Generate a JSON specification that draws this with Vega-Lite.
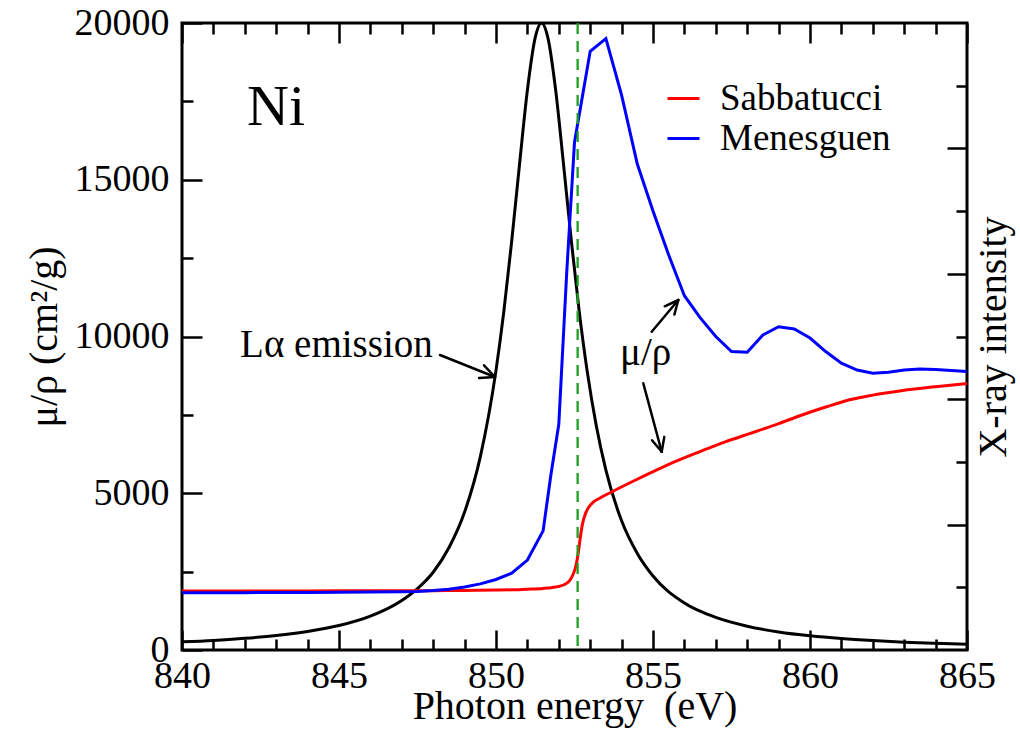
{
  "$schema": "https://vega.github.io/schema/vega-lite/v6.json",
  "width": 785,
  "height": 627,
  "autosize": {"type": "none"},
  "padding": {"left": 182, "top": 23, "right": 53, "bottom": 89},
  "background": "white",
  "config": {
    "view": {"stroke": "black", "strokeWidth": 3},
    "font": "Liberation Serif",
    "axis": {
      "grid": false,
      "domain": false,
      "tickColor": "black",
      "tickWidth": 2.5,
      "labelColor": "black",
      "titleColor": "black",
      "labelFont": "Liberation Serif",
      "titleFont": "Liberation Serif",
      "labelFontSize": 38,
      "titleFontSize": 40,
      "titleFontWeight": "normal"
    }
  },
  "datasets": {
    "sabbatucci": [
      {"series": "Sabbatucci", "energy": 840, "mu": 1880},
      {"series": "Sabbatucci", "energy": 842, "mu": 1882},
      {"series": "Sabbatucci", "energy": 844, "mu": 1885},
      {"series": "Sabbatucci", "energy": 846, "mu": 1888},
      {"series": "Sabbatucci", "energy": 848, "mu": 1893},
      {"series": "Sabbatucci", "energy": 849, "mu": 1900},
      {"series": "Sabbatucci", "energy": 850, "mu": 1910},
      {"series": "Sabbatucci", "energy": 850.5, "mu": 1920},
      {"series": "Sabbatucci", "energy": 851, "mu": 1940},
      {"series": "Sabbatucci", "energy": 851.5, "mu": 1965},
      {"series": "Sabbatucci", "energy": 851.8, "mu": 1995},
      {"series": "Sabbatucci", "energy": 852, "mu": 2030},
      {"series": "Sabbatucci", "energy": 852.2, "mu": 2100},
      {"series": "Sabbatucci", "energy": 852.35, "mu": 2220},
      {"series": "Sabbatucci", "energy": 852.45, "mu": 2400},
      {"series": "Sabbatucci", "energy": 852.55, "mu": 2700},
      {"series": "Sabbatucci", "energy": 852.62, "mu": 3100},
      {"series": "Sabbatucci", "energy": 852.68, "mu": 3550},
      {"series": "Sabbatucci", "energy": 852.75, "mu": 4000},
      {"series": "Sabbatucci", "energy": 852.85, "mu": 4350},
      {"series": "Sabbatucci", "energy": 852.95, "mu": 4550},
      {"series": "Sabbatucci", "energy": 853.1, "mu": 4720},
      {"series": "Sabbatucci", "energy": 853.3, "mu": 4840},
      {"series": "Sabbatucci", "energy": 853.7, "mu": 5050},
      {"series": "Sabbatucci", "energy": 854.3, "mu": 5350},
      {"series": "Sabbatucci", "energy": 854.9, "mu": 5640},
      {"series": "Sabbatucci", "energy": 855.5, "mu": 5920},
      {"series": "Sabbatucci", "energy": 856.5, "mu": 6330},
      {"series": "Sabbatucci", "energy": 857.3, "mu": 6640},
      {"series": "Sabbatucci", "energy": 858.1, "mu": 6910},
      {"series": "Sabbatucci", "energy": 859, "mu": 7220},
      {"series": "Sabbatucci", "energy": 859.7, "mu": 7480},
      {"series": "Sabbatucci", "energy": 860.5, "mu": 7750},
      {"series": "Sabbatucci", "energy": 861.3, "mu": 7990},
      {"series": "Sabbatucci", "energy": 862, "mu": 8130},
      {"series": "Sabbatucci", "energy": 862.9, "mu": 8270},
      {"series": "Sabbatucci", "energy": 864, "mu": 8400},
      {"series": "Sabbatucci", "energy": 865, "mu": 8500}
    ],
    "menesguen": [
      {"series": "Menesguen", "energy": 840, "mu": 1830},
      {"series": "Menesguen", "energy": 841, "mu": 1830},
      {"series": "Menesguen", "energy": 842, "mu": 1830},
      {"series": "Menesguen", "energy": 843, "mu": 1832},
      {"series": "Menesguen", "energy": 844, "mu": 1835},
      {"series": "Menesguen", "energy": 845, "mu": 1840},
      {"series": "Menesguen", "energy": 846, "mu": 1848},
      {"series": "Menesguen", "energy": 847, "mu": 1858},
      {"series": "Menesguen", "energy": 847.5, "mu": 1870},
      {"series": "Menesguen", "energy": 848, "mu": 1895},
      {"series": "Menesguen", "energy": 848.5, "mu": 1940},
      {"series": "Menesguen", "energy": 849, "mu": 2010},
      {"series": "Menesguen", "energy": 849.5, "mu": 2110},
      {"series": "Menesguen", "energy": 850, "mu": 2250},
      {"series": "Menesguen", "energy": 850.5, "mu": 2450},
      {"series": "Menesguen", "energy": 851, "mu": 2870},
      {"series": "Menesguen", "energy": 851.5, "mu": 3800},
      {"series": "Menesguen", "energy": 851.75, "mu": 5600},
      {"series": "Menesguen", "energy": 852, "mu": 7200},
      {"series": "Menesguen", "energy": 852.25, "mu": 12000},
      {"series": "Menesguen", "energy": 852.5, "mu": 16200},
      {"series": "Menesguen", "energy": 853, "mu": 19100},
      {"series": "Menesguen", "energy": 853.5, "mu": 19500},
      {"series": "Menesguen", "energy": 854, "mu": 17700},
      {"series": "Menesguen", "energy": 854.5, "mu": 15500},
      {"series": "Menesguen", "energy": 855, "mu": 14000},
      {"series": "Menesguen", "energy": 855.5, "mu": 12600},
      {"series": "Menesguen", "energy": 856, "mu": 11300},
      {"series": "Menesguen", "energy": 856.5, "mu": 10600},
      {"series": "Menesguen", "energy": 857, "mu": 10000},
      {"series": "Menesguen", "energy": 857.5, "mu": 9520},
      {"series": "Menesguen", "energy": 858, "mu": 9500},
      {"series": "Menesguen", "energy": 858.5, "mu": 10050},
      {"series": "Menesguen", "energy": 859, "mu": 10310},
      {"series": "Menesguen", "energy": 859.5, "mu": 10240},
      {"series": "Menesguen", "energy": 860, "mu": 9950},
      {"series": "Menesguen", "energy": 860.5, "mu": 9520},
      {"series": "Menesguen", "energy": 861, "mu": 9150},
      {"series": "Menesguen", "energy": 861.5, "mu": 8930},
      {"series": "Menesguen", "energy": 862, "mu": 8830},
      {"series": "Menesguen", "energy": 862.5, "mu": 8860},
      {"series": "Menesguen", "energy": 863, "mu": 8930},
      {"series": "Menesguen", "energy": 863.5, "mu": 8960},
      {"series": "Menesguen", "energy": 864, "mu": 8950},
      {"series": "Menesguen", "energy": 865, "mu": 8880}
    ],
    "emission": [
      {"energy": 840, "intensity": 0.013},
      {"energy": 841, "intensity": 0.0152},
      {"energy": 842, "intensity": 0.0186},
      {"energy": 843, "intensity": 0.0231},
      {"energy": 844, "intensity": 0.0296},
      {"energy": 845, "intensity": 0.039},
      {"energy": 846, "intensity": 0.054},
      {"energy": 847, "intensity": 0.079},
      {"energy": 847.5, "intensity": 0.098},
      {"energy": 848, "intensity": 0.124},
      {"energy": 848.5, "intensity": 0.163},
      {"energy": 849, "intensity": 0.22},
      {"energy": 849.5, "intensity": 0.308},
      {"energy": 850, "intensity": 0.446},
      {"energy": 850.25, "intensity": 0.54},
      {"energy": 850.5, "intensity": 0.652},
      {"energy": 850.75, "intensity": 0.775},
      {"energy": 851, "intensity": 0.893},
      {"energy": 851.25, "intensity": 0.977},
      {"energy": 851.45, "intensity": 1.0},
      {"energy": 851.65, "intensity": 0.977},
      {"energy": 851.9, "intensity": 0.893},
      {"energy": 852.15, "intensity": 0.775},
      {"energy": 852.4, "intensity": 0.652},
      {"energy": 852.65, "intensity": 0.54},
      {"energy": 852.9, "intensity": 0.446},
      {"energy": 853.2, "intensity": 0.356},
      {"energy": 853.5, "intensity": 0.287},
      {"energy": 854, "intensity": 0.206},
      {"energy": 854.5, "intensity": 0.154},
      {"energy": 855, "intensity": 0.118},
      {"energy": 856, "intensity": 0.075},
      {"energy": 857, "intensity": 0.052},
      {"energy": 858, "intensity": 0.038},
      {"energy": 859, "intensity": 0.0288},
      {"energy": 860, "intensity": 0.0226},
      {"energy": 861, "intensity": 0.0182},
      {"energy": 862, "intensity": 0.015},
      {"energy": 863, "intensity": 0.0125},
      {"energy": 864, "intensity": 0.0106},
      {"energy": 865, "intensity": 0.0091}
    ],
    "edge": [{"energy": 852.6}],
    "notes": [
      {"label": "Lα emission", "energy": 841.85, "mu": 9347},
      {"label": "μ/ρ", "energy": 853.95, "mu": 9090}
    ],
    "element": [{"label": "Ni", "energy": 842.07, "mu": 16748}],
    "arrows": [
      {"energy": 848.217, "mu": 9410, "energy2": 849.968, "mu2": 8708},
      {"energy": 849.618, "mu": 9082, "energy2": 849.968, "mu2": 8708},
      {"energy": 849.459, "mu": 8680, "energy2": 849.968, "mu2": 8708},
      {"energy": 854.959, "mu": 10153, "energy2": 855.806, "mu2": 11164},
      {"energy": 855.373, "mu": 10963, "energy2": 855.806, "mu2": 11164},
      {"energy": 855.682, "mu": 10702, "energy2": 855.806, "mu2": 11164},
      {"energy": 854.691, "mu": 8507, "energy2": 855.277, "mu2": 6325},
      {"energy": 855.36, "mu": 6798, "energy2": 855.277, "mu2": 6325},
      {"energy": 854.968, "mu": 6692, "energy2": 855.277, "mu2": 6325}
    ]
  },
  "layer": [
    {
      "data": {"name": "emission"},
      "mark": {"type": "line", "color": "black", "strokeWidth": 3, "interpolate": "monotone", "clip": true},
      "encoding": {
        "x": {
          "field": "energy", "type": "quantitative",
          "scale": {"domain": [840, 865], "nice": false, "zero": false},
          "axis": {
            "orient": "top",
            "values": [840,841,842,843,844,845,846,847,848,849,850,851,852,853,854,855,856,857,858,859,860,861,862,863,864,865],
            "labels": false,
            "title": null,
            "tickSize": {"condition": {"test": "datum.value % 5 === 0", "value": -20}, "value": -11}
          }
        },
        "y": {
          "field": "intensity", "type": "quantitative",
          "scale": {"domain": [0, 1], "nice": false, "zero": true},
          "axis": {
            "orient": "right",
            "values": [0.1,0.2,0.3,0.4,0.5,0.6,0.7,0.8,0.9],
            "labels": false,
            "title": "X-ray intensity",
            "titleAngle": -90,
            "titleBaseline": "top",
            "titlePadding": 5,
            "tickSize": {"condition": {"test": "round(datum.value * 10) % 2 === 0", "value": -20}, "value": -11}
          }
        }
      }
    },
    {
      "data": {"name": "sabbatucci"},
      "mark": {"type": "line", "strokeWidth": 3, "interpolate": "monotone", "clip": true},
      "encoding": {
        "x": {
          "field": "energy", "type": "quantitative",
          "scale": {"domain": [840, 865], "nice": false, "zero": false},
          "axis": {
            "orient": "bottom",
            "values": [840,841,842,843,844,845,846,847,848,849,850,851,852,853,854,855,856,857,858,859,860,861,862,863,864,865],
            "labelExpr": "datum.value % 5 === 0 ? datum.label : ''",
            "format": "d",
            "tickSize": {"condition": {"test": "datum.value % 5 === 0", "value": -20}, "value": -11},
            "labelPadding": 27,
            "labelFlush": false,
            "labelOverlap": false,
            "title": "Photon energy\u00a0 (eV)",
            "titlePadding": -18
          }
        },
        "y": {
          "field": "mu", "type": "quantitative",
          "scale": {"domain": [0, 20000], "nice": false},
          "axis": {
            "orient": "left",
            "values": [0,2500,5000,7500,10000,12500,15000,17500,20000],
            "labelExpr": "datum.value % 5000 === 0 ? datum.label : ''",
            "format": "d",
            "tickSize": {"condition": {"test": "datum.value % 5000 === 0", "value": -20}, "value": -11},
            "labelPadding": 33,
            "labelFlush": false,
            "labelOverlap": false,
            "title": "μ/ρ (cm²/g)",
            "titlePadding": 10
          }
        },
        "color": {
          "field": "series", "type": "nominal",
          "scale": {"domain": ["Sabbatucci", "Menesguen"], "range": ["#ff0000", "#0000ff"]},
          "legend": {
            "orient": "none",
            "legendX": 483,
            "legendY": 57,
            "title": null,
            "padding": 0,
            "symbolType": "stroke",
            "symbolSize": 1024,
            "symbolStrokeWidth": 3,
            "labelFont": "Liberation Serif",
            "labelFontSize": 37,
            "labelColor": "black",
            "labelLimit": 400,
            "labelOffset": 18,
            "rowPadding": 2
          }
        }
      }
    },
    {
      "data": {"name": "menesguen"},
      "mark": {"type": "line", "strokeWidth": 3, "clip": true},
      "encoding": {
        "x": {"field": "energy", "type": "quantitative", "scale": {"domain": [840, 865], "nice": false, "zero": false}, "axis": null},
        "y": {"field": "mu", "type": "quantitative", "scale": {"domain": [0, 20000], "nice": false}, "axis": null},
        "color": {"field": "series", "type": "nominal", "scale": {"domain": ["Sabbatucci", "Menesguen"], "range": ["#ff0000", "#0000ff"]}}
      }
    },
    {
      "data": {"name": "edge"},
      "mark": {"type": "rule", "color": "#1f9f1f", "strokeWidth": 2.3, "strokeDash": [11, 7]},
      "encoding": {
        "x": {"field": "energy", "type": "quantitative", "axis": null}
      }
    },
    {
      "data": {"name": "arrows"},
      "mark": {"type": "rule", "color": "black", "strokeWidth": 2.5, "strokeCap": "round"},
      "encoding": {
        "x": {"field": "energy", "type": "quantitative", "axis": null},
        "x2": {"field": "energy2"},
        "y": {"field": "mu", "type": "quantitative", "scale": {"domain": [0, 20000], "nice": false}, "axis": null},
        "y2": {"field": "mu2"}
      }
    },
    {
      "data": {"name": "notes"},
      "mark": {"type": "text", "font": "Liberation Serif", "fontSize": 39, "align": "left", "baseline": "alphabetic", "color": "black"},
      "encoding": {
        "x": {"field": "energy", "type": "quantitative", "axis": null},
        "y": {"field": "mu", "type": "quantitative", "scale": {"domain": [0, 20000], "nice": false}, "axis": null},
        "text": {"field": "label"}
      }
    },
    {
      "data": {"name": "element"},
      "mark": {"type": "text", "font": "Liberation Serif", "fontSize": 58, "align": "left", "baseline": "alphabetic", "color": "black"},
      "encoding": {
        "x": {"field": "energy", "type": "quantitative", "axis": null},
        "y": {"field": "mu", "type": "quantitative", "scale": {"domain": [0, 20000], "nice": false}, "axis": null},
        "text": {"field": "label"}
      }
    }
  ],
  "resolve": {
    "scale": {"y": "independent"},
    "axis": {"x": "independent", "y": "independent"}
  }
}
